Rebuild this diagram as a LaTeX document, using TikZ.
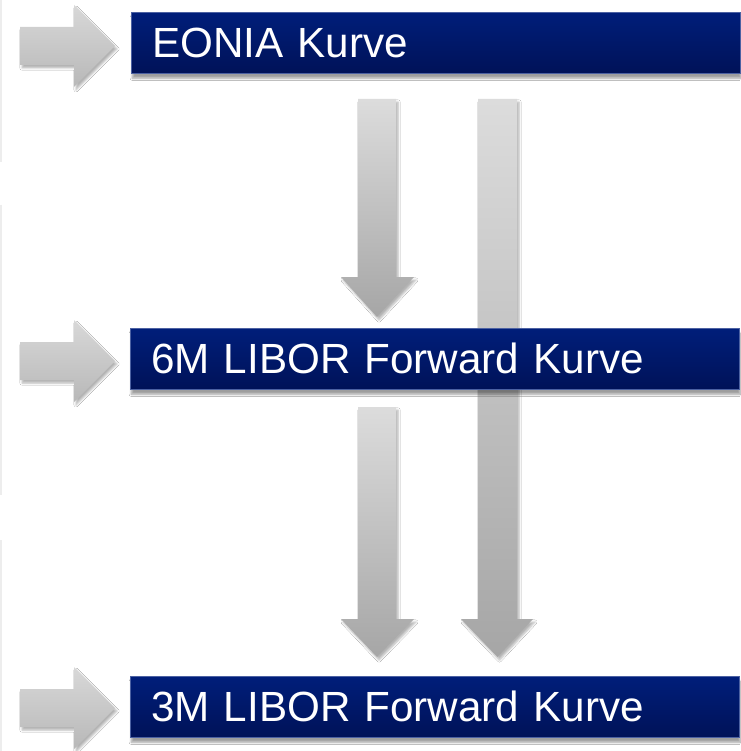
\documentclass[tikz,border=0pt]{standalone}
\usepackage{fontspec}
\setmainfont{Liberation Sans}
\usetikzlibrary{shadows.blur}
\definecolor{navytop}{RGB}{0,30,122}
\definecolor{navybot}{RGB}{0,18,88}
\definecolor{arrtop}{RGB}{220,220,220}
\definecolor{arrbot}{RGB}{166,166,166}
\definecolor{harrtop}{RGB}{216,216,216}
\definecolor{harrbot}{RGB}{184,184,184}
\tikzset{
  curvebox/.style={anchor=north west, minimum height=61pt, text width=567pt,
    inner xsep=21pt, inner ysep=0pt, align=left, text=white,
    top color=navytop, bottom color=navybot, draw=navytop!70!white, line width=0.6pt,
    font=\fontsize{42.2}{48}\selectfont,
    blur shadow={shadow xshift=1pt, shadow yshift=-5pt, shadow blur steps=7, shadow opacity=38}},
  varrow/.style={top color=arrtop, bottom color=arrbot,
    blur shadow={shadow xshift=2pt, shadow yshift=-3pt, shadow blur steps=5, shadow opacity=30}},
  harrow/.style={top color=harrtop, bottom color=harrbot,
    blur shadow={shadow xshift=2pt, shadow yshift=-3pt, shadow blur steps=5, shadow opacity=30}},
  edgeline/.style={draw=black!7, line width=2pt}
}
\begin{document}
\begin{tikzpicture}[x=1pt,y=-1pt]
\useasboundingbox (0,0) rectangle (740,751);
\fill[white] (0,0) rectangle (740,751);
% faint left edge remnants
\draw[edgeline] (1,0) -- (1,162);
\draw[edgeline] (1,205) -- (1,495);
\draw[edgeline] (1,540) -- (1,751);
% horizontal input arrows
\path[harrow] (20,27) -- (74,27) -- (74,5) -- (115,46) -- (74,87) -- (74,65) -- (20,65) -- cycle;
\path[harrow] (20,342) -- (74,342) -- (74,320) -- (115,361) -- (74,402) -- (74,380) -- (20,380) -- cycle;
\path[harrow] (20,689) -- (74,689) -- (74,667) -- (115,708) -- (74,749) -- (74,727) -- (20,727) -- cycle;
% vertical arrows
\path[varrow] (358,99) -- (396,99) -- (396,277) -- (414,277) -- (377,317) -- (341,277) -- (358,277) -- cycle;
\path[varrow] (478,99) -- (517,99) -- (517,619) -- (533,619) -- (497.5,657) -- (461,619) -- (478,619) -- cycle;
\path[varrow] (358,407) -- (396,407) -- (396,619) -- (414,619) -- (377,657) -- (341,619) -- (358,619) -- cycle;
% boxes
\node[curvebox] (eonia) at (131,12) {EONIA Kurve};
\node[curvebox] (libor6) at (130,328) {6M LIBOR Forward Kurve};
\node[curvebox] (libor3) at (130,676) {3M LIBOR Forward Kurve};
\end{tikzpicture}
\end{document}
